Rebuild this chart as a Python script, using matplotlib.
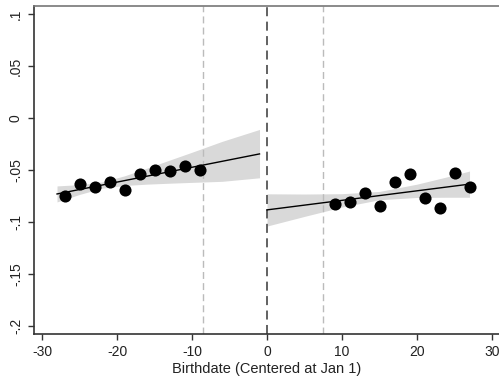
import numpy as np
import matplotlib.pyplot as plt

plt.rcParams['font.family'] = ['Liberation Sans', 'DejaVu Sans']
plt.rcParams['axes.unicode_minus'] = False

# binned means, before and after the cutoff
left_x = [-27, -25, -23, -21, -19, -17, -15, -13, -11, -9]
left_y = [-0.0750, -0.0638, -0.0667, -0.0612, -0.0692, -0.0538, -0.0503, -0.0513, -0.0462, -0.0503]
right_x = [9, 11, 13, 15, 17, 19, 21, 23, 25, 27]
right_y = [-0.0830, -0.0810, -0.0724, -0.0843, -0.0612, -0.0535, -0.0769, -0.0865, -0.0529, -0.0667]

# confidence bands
left_band_x = [-28, -25, -22, -19, -16, -13, -10, -6, -1]
left_band_lo = [-0.0807, -0.0735, -0.0675, -0.0649, -0.0636, -0.0627, -0.0619, -0.0609, -0.0575]
left_band_hi = [-0.0653, -0.0641, -0.0615, -0.0556, -0.0482, -0.0405, -0.0329, -0.0225, -0.0110]
right_band_x = [0, 5, 10, 15, 20, 24, 27]
right_band_lo = [-0.1039, -0.0946, -0.0856, -0.0786, -0.0764, -0.0762, -0.0762]
right_band_hi = [-0.0729, -0.0731, -0.0728, -0.0706, -0.0636, -0.0566, -0.0510]

cutoff = 0
bandwidth_lines = [-8.5, 7.5]

xticks = [-30, -20, -10, 0, 10, 20, 30]
yticks = [0.1, 0.05, 0, -0.05, -0.1, -0.15, -0.2]
yticklabels = ['.1', '.05', '0', '-.05', '-.1', '-.15', '-.2']

fig = plt.figure(figsize=(4.99, 3.84), dpi=100)
ax = fig.add_axes([34 / 499, 50 / 384, 465 / 499, 328 / 384])

ax.fill_between(left_band_x, left_band_lo, left_band_hi, color='#d9d9d9', lw=0, zorder=1)
ax.fill_between(right_band_x, right_band_lo, right_band_hi, color='#d9d9d9', lw=0, zorder=1)

# linear fits on each side
for xs, ys, x0, x1 in [(left_x, left_y, -28, -1), (right_x, right_y, 0, 27)]:
    b, a = np.polyfit(xs, ys, 1)
    ax.plot([x0, x1], [a + b * x0, a + b * x1], color='black', lw=1, zorder=3)

ax.axvline(cutoff, color='#555555', lw=1.3, dashes=(5, 3), zorder=2)
for v in bandwidth_lines:
    ax.axvline(v, color='#bbbbbb', lw=1, dashes=(5, 3), zorder=2)

ax.scatter(left_x, left_y, s=76, color='black', zorder=4, lw=0)
ax.scatter(right_x, right_y, s=76, color='black', zorder=4, lw=0)

ax.set_xlim(-31.07, 30.93)
ax.set_ylim(-0.2077, 0.1077)
ax.set_xticks(xticks)
ax.set_yticks(yticks)
ax.set_yticklabels(yticklabels, rotation=90, va='center')
ax.tick_params(labelsize=10, length=4.5, width=1, colors='#333333', labelcolor='#222222')
ax.set_xlabel('Birthdate (Centered at Jan 1)', fontsize=10.5, color='#222222', labelpad=2)

ax.spines['right'].set_visible(False)
ax.spines['top'].set_color('#777777')
ax.spines['left'].set_color('#333333')
ax.spines['bottom'].set_color('#333333')
for s in ax.spines.values():
    s.set_linewidth(1.2)

fig.savefig('out.png', dpi=100)
